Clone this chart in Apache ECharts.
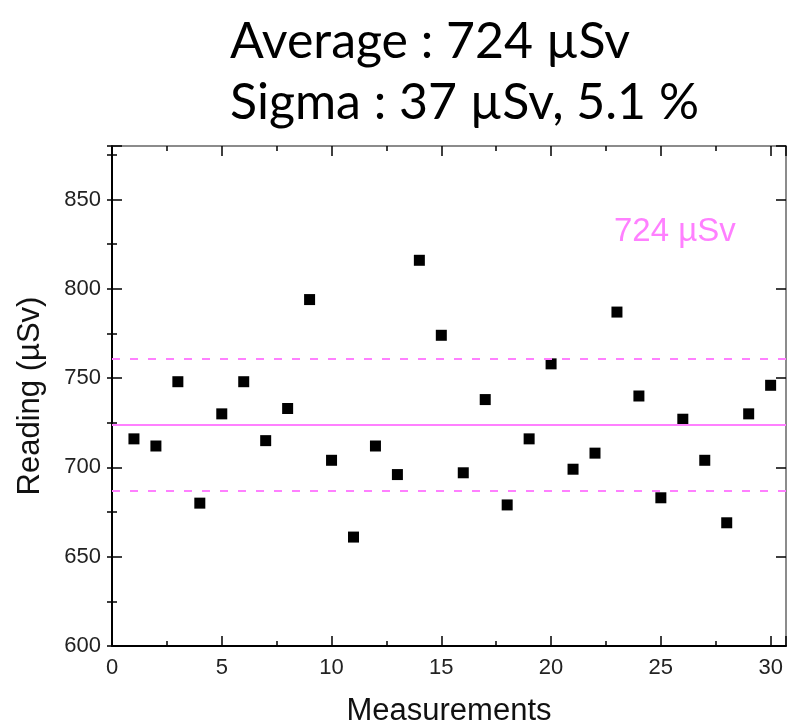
<!DOCTYPE html>
<html>
<head>
<meta charset="utf-8">
<script src="https://cdn.jsdelivr.net/npm/echarts@6/dist/echarts.min.js"></script>
<style>
html,body{margin:0;padding:0;background:#fff;}
#chart{width:787px;height:722px;}
</style>
</head>
<body>
<div id="chart"></div>
<script>
// ---- data ----
const measurements = [1,2,3,4,5,6,7,8,9,10,11,12,13,14,15,16,17,18,19,20,21,22,23,24,25,26,27,28,29,30];
const readings = [716,712,748,680,730,748,715,733,794,704,661,712,696,816,774,697,738,679,716,758,699,708,787,740,683,727,704,669,730,746];
const average = 724;
const sigma = 37;
const sigmaPct = 5.1;
const xTickLabels = [0,5,10,15,20,25,30];
const yTickLabels = [600,650,700,750,800,850];
const titleLines = ['Average : ' + average + ' \u00B5Sv', 'Sigma : ' + sigma + ' \u00B5Sv, ' + sigmaPct + ' %'];
const avgLabel = average + ' \u00B5Sv';

const X_MIN = 0, X_MAX = 30.7, Y_MIN = 600, Y_MAX = 880;
const PINK = '#ff80ff';
const FONT = '"Liberation Sans", Arial, sans-serif';

const gridBox = {left:112, right:1, top:146, bottom:76, containLabel:false, outerBoundsMode:'none'};

function majorX(pos, showLabels, name) {
  const ax = {
    type:'value', gridIndex:0, position:pos, min:X_MIN, max:X_MAX, interval:5,
    axisLine:{show:true, onZero:false, lineStyle:{color: pos==='bottom' ? '#000' : '#666', width: pos==='bottom' ? 2 : 1.5}},
    axisTick:{show:true, inside:true, length:10, lineStyle:{color:'#000', width:1.5}},
    axisLabel:{show:showLabels, margin:11, color:'#222', fontSize:22, fontFamily:FONT,
      formatter: v => xTickLabels.indexOf(Math.round(v*1000)/1000) >= 0 ? String(v) : ''},
    splitLine:{show:false}
  };
  if (name) {
    ax.name = name; ax.nameLocation = 'middle'; ax.nameGap = 50;
    ax.nameTextStyle = {fontSize:31, fontFamily:FONT, color:'#111'};
  }
  return ax;
}
function majorY(pos, showLabels, name) {
  const ax = {
    type:'value', gridIndex:0, position:pos, min:Y_MIN, max:Y_MAX, interval:50,
    axisLine:{show:true, onZero:false, lineStyle:{color: pos==='left' ? '#000' : '#666', width: pos==='left' ? 2 : 1.5}},
    axisTick:{show:true, inside:true, length:10, lineStyle:{color:'#000', width:1.5}},
    axisLabel:{show:showLabels, margin:11, color:'#222', fontSize:22, fontFamily:FONT,
      formatter: v => yTickLabels.indexOf(v) >= 0 ? String(v) : ''},
    splitLine:{show:false}
  };
  if (name) {
    ax.name = name; ax.nameLocation = 'middle'; ax.nameGap = 66;
    ax.nameTextStyle = {fontSize:31, fontFamily:FONT, color:'#111'};
  }
  return ax;
}
function minorX(pos) {
  return {type:'value', gridIndex:1, position:pos, min:X_MIN, max:X_MAX, interval:2.5,
    axisLine:{show:false}, axisTick:{show:true, inside:true, length:5, lineStyle:{color:'#000', width:1.5}},
    axisLabel:{show:false}, splitLine:{show:false}};
}
function minorY(pos) {
  return {type:'value', gridIndex:1, position:pos, min:Y_MIN, max:Y_MAX, interval:25,
    axisLine:{show:false}, axisTick:{show:true, inside:true, length:5, lineStyle:{color:'#000', width:1.5}},
    axisLabel:{show:false}, splitLine:{show:false}};
}

const chart = echarts.init(document.getElementById('chart'), null, {renderer:'canvas'});
chart.setOption({
  animation:false,
  backgroundColor:'#fff',
  grid:[Object.assign({}, gridBox), Object.assign({}, gridBox)],
  xAxis:[majorX('bottom', true, 'Measurements'), majorX('top', false), minorX('bottom'), minorX('top')],
  yAxis:[majorY('left', true, 'Reading (\u00B5Sv)'), majorY('right', false), minorY('left'), minorY('right')],
  graphic:[
    {type:'text', left:230, top:17, style:{text:titleLines[0], font:'50px Lato, "Open Sans", sans-serif', fill:'#000'}},
    {type:'text', left:230, top:78, style:{text:titleLines[1], font:'50px Lato, "Open Sans", sans-serif', fill:'#000'}},
    {type:'text', left:614, top:215, style:{text:avgLabel, font:'33px "Liberation Sans", Arial, sans-serif', fill:PINK}}
  ],
  series:[{
    type:'scatter', xAxisIndex:0, yAxisIndex:0,
    symbol:'rect', symbolSize:11,
    itemStyle:{color:'#000', opacity:1},
    data: measurements.map((m,i)=>[m, readings[i]]),
    z:3,
    markLine:{
      silent:true, symbol:['none','none'], label:{show:false}, animation:false,
      data:[
        {yAxis: average, lineStyle:{color:PINK, width:2, type:'solid'}},
        {yAxis: average + sigma, lineStyle:{color:PINK, width:2, type:[8,10]}},
        {yAxis: average - sigma, lineStyle:{color:PINK, width:2, type:[8,10]}}
      ]
    }
  }]
});
</script>
</body>
</html>
